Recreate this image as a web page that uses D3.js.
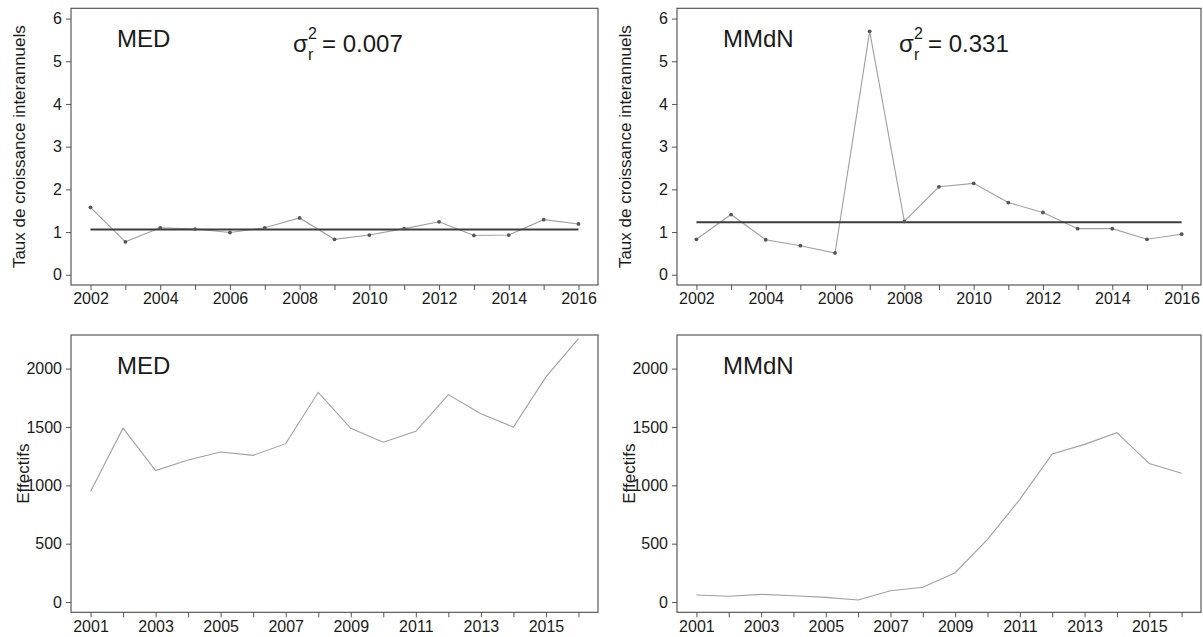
<!DOCTYPE html>
<html>
<head>
<meta charset="utf-8">
<script src="https://cdn.jsdelivr.net/npm/d3@7"></script>
<style>
  body { margin: 0; background: #fff; }
  text { font-family: "Liberation Sans", Arial, sans-serif; fill: #1a1a1a; }
</style>
</head>
<body>
<svg id="chart" width="1203" height="637"></svg>
<script>
// growth rates (taux de croissance interannuels)
let growthYears = [2002, 2003, 2004, 2005, 2006, 2007, 2008, 2009, 2010, 2011, 2012, 2013, 2014, 2015, 2016];
let medGrowth  = [1.58, 0.77, 1.10, 1.07, 0.99, 1.10, 1.33, 0.83, 0.93, 1.08, 1.24, 0.92, 0.93, 1.29, 1.19];
let mmdnGrowth = [0.83, 1.41, 0.82, 0.68, 0.51, 5.70, 1.25, 2.06, 2.14, 1.69, 1.46, 1.08, 1.08, 0.83, 0.95];
let medMean = 1.06, mmdnMean = 1.23;
let medVariance = "0.007", mmdnVariance = "0.331";

// headcounts (effectifs)
let countYears = [2001, 2002, 2003, 2004, 2005, 2006, 2007, 2008, 2009, 2010, 2011, 2012, 2013, 2014, 2015, 2016];
let medCounts  = [946, 1490, 1126, 1217, 1286, 1257, 1357, 1797, 1489, 1369, 1463, 1777, 1614, 1500, 1929, 2257];
let mmdnCounts = [60, 49, 66, 54, 40, 18, 97, 126, 251, 537, 880, 1269, 1351, 1451, 1186, 1103];

let growthTicks = [0, 1, 2, 3, 4, 5, 6];
let countTicks = [0, 500, 1000, 1500, 2000];

let svg = d3.select("#chart");

// R-style 4% padding around a range
let pad = ([a, b]) => [a - 0.04 * (b - a), b + 0.04 * (b - a)];

let cols = [{ x0: 71, x1: 598, site: "MED" }, { x0: 677, x1: 1201, site: "MMdN" }];
let rows = [
    { y0: 8.3, y1: 285, yLabel: "Taux de croissance interannuels", labelOff: 46, yLim: [0, 6], yTicks: growthTicks, years: growthYears },
    { y0: 335, y1: 612.3, yLabel: "Effectifs", labelOff: 42, yLim: [0, 2200], yTicks: countTicks, years: countYears }
];

let panels = [
    { col: cols[0], row: rows[0], values: medGrowth, mean: medMean, variance: medVariance },
    { col: cols[1], row: rows[0], values: mmdnGrowth, mean: mmdnMean, variance: mmdnVariance },
    { col: cols[0], row: rows[1], values: medCounts },
    { col: cols[1], row: rows[1], values: mmdnCounts }
];

panels.forEach(p => {
    let { x0, x1, site } = p.col;
    let { y0, y1, years, yTicks, yLim, yLabel, labelOff } = p.row;
    let data = years.map((yr, i) => ({ year: yr, value: p.values[i] }));

    let x = d3.scaleLinear().domain(pad(d3.extent(years))).range([x0, x1]);
    let y = d3.scaleLinear().domain(pad(yLim)).range([y1, y0]);

    let g = svg.append("g");

    // axes
    let xAxis = g.append("g").attr("transform", `translate(0,${y1})`)
        .call(d3.axisBottom(x).tickValues(years).tickSize(5).tickPadding(3)
            .tickFormat((d, i) => i % 2 === 0 ? String(d) : ""));
    let yAxis = g.append("g").attr("transform", `translate(${x0},0)`)
        .call(d3.axisLeft(y).tickValues(yTicks).tickSize(5).tickPadding(4)
            .tickFormat(d => String(d)));
    [xAxis, yAxis].forEach(a => {
        a.select(".domain").remove();
        a.selectAll(".tick line").attr("stroke", "#555");
        a.selectAll(".tick text").attr("font-size", 16).attr("fill", "#1a1a1a")
            .attr("font-family", '"Liberation Sans", Arial, sans-serif');
    });

    // box
    g.append("rect").attr("x", x0).attr("y", y0).attr("width", x1 - x0).attr("height", y1 - y0)
        .attr("fill", "none").attr("stroke", "#4a4a4a").attr("stroke-width", 1.1);

    // y label
    g.append("text")
        .attr("transform", `translate(${x0 - labelOff},${(y0 + y1) / 2}) rotate(-90)`)
        .attr("text-anchor", "middle").attr("font-size", 17)
        .text(yLabel);

    // series
    let line = d3.line().x(d => x(d.year)).y(d => y(d.value));
    g.append("path").datum(data).attr("d", line)
        .attr("fill", "none").attr("stroke", "#a0a0a0").attr("stroke-width", 1.1);

    if (p.mean !== undefined) {
        g.append("line")
            .attr("x1", x(years[0])).attr("x2", x(years[years.length - 1]))
            .attr("y1", y(p.mean)).attr("y2", y(p.mean))
            .attr("stroke", "#3c3c3c").attr("stroke-width", 2.2);

        g.selectAll(".pt").data(data).enter().append("circle").attr("class", "pt")
            .attr("cx", d => x(d.year)).attr("cy", d => y(d.value)).attr("r", 1.9)
            .attr("fill", "#555");

        // sigma_r^2 = value
        let sx = x0 + 222, sy = y0 + 43.4;
        g.append("text").attr("x", sx).attr("y", sy).attr("font-size", 24).text("σ");
        g.append("text").attr("x", sx + 15).attr("y", sy - 12.5).attr("font-size", 16).text("2");
        g.append("text").attr("x", sx + 15).attr("y", sy + 8.5).attr("font-size", 16).text("r");
        g.append("text").attr("x", sx + 29).attr("y", sy).attr("font-size", 24).text("= " + p.variance);
    }

    // site label
    g.append("text").attr("x", x0 + 46).attr("y", y0 + 38.5).attr("font-size", 24).text(site);
});
</script>
</body>
</html>
